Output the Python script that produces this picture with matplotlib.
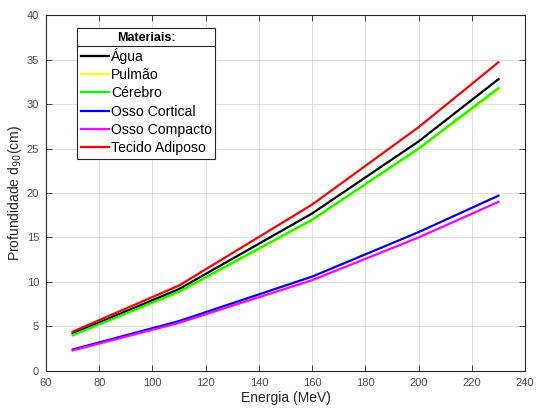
import matplotlib
matplotlib.use("Agg")
import matplotlib.pyplot as plt
from matplotlib.lines import Line2D

plt.rcParams['font.family'] = ['Liberation Sans', 'DejaVu Sans']

energia = [70, 110, 160, 200, 230]
agua = [4.2, 9.2, 17.7, 25.8, 32.8]
pulmao = [4.0, 8.8, 16.9, 24.9, 31.6]
cerebro = [4.0, 8.9, 17.0, 25.0, 31.8]
osso_cortical = [2.4, 5.6, 10.6, 15.6, 19.7]
osso_compacto = [2.3, 5.4, 10.2, 15.0, 19.0]
tecido_adiposo = [4.4, 9.6, 18.7, 27.4, 34.7]
series_names = ['Água', 'Pulmão', 'Cérebro', 'Osso Cortical', 'Osso Compacto', 'Tecido Adiposo']
xticks = list(range(60, 241, 20))
yticks = list(range(0, 41, 5))

colors = ['#000000', '#ffff00', '#00ff00', '#0000ff', '#ff00ff', '#ff0000']
data = [agua, pulmao, cerebro, osso_cortical, osso_compacto, tecido_adiposo]

fig = plt.figure(figsize=(5.51, 4.08), dpi=100)
ax = fig.add_axes([0.0835, 0.091, 0.8695, 0.872])
for vals, c, name in zip(data, colors, series_names):
    ax.plot(energia, vals, color=c, lw=1.6, label=name)

ax.set_xlim(60, 240)
ax.set_ylim(0, 40)
ax.set_xticks(xticks)
ax.set_yticks(yticks)
ax.grid(True, color='#dcdcdc', lw=0.6)
ax.set_axisbelow(True)
for s in ax.spines.values():
    s.set_color('#262626')
    s.set_linewidth(0.8)
ax.tick_params(direction='in', length=4, width=0.6, colors='#262626', labelsize=8, labelcolor='#4d4d4d',
               top=True, right=True, pad=5)
ax.set_xlabel('Energia (MeV)', fontsize=10, color='#262626', labelpad=2)
ax.set_ylabel('Profundidade d$_{90}$(cm)', fontsize=10, color='#262626', labelpad=2)

leg = ax.legend(loc='upper left', bbox_to_anchor=(0.065, 0.963), title='Materiais:',
                title_fontproperties={'weight': 'bold', 'size': 9},
                fontsize=10.1, handlelength=2.05, handletextpad=0.1, labelspacing=0.3,
                borderpad=0.25, fancybox=False, edgecolor='#262626', framealpha=1,
                borderaxespad=0)
leg.get_frame().set_linewidth(0.8)

fig.canvas.draw()
r = fig.canvas.get_renderer()
lb = leg.get_window_extent(r)
tb = leg.get_title().get_window_extent(r)
ysep = tb.y0 - 2
inv = fig.transFigure.inverted()
(x0, y0) = inv.transform((lb.x0, ysep))
(x1, _) = inv.transform((lb.x1, ysep))
fig.add_artist(Line2D([x0, x1], [y0, y0], color='#262626', lw=0.8, transform=fig.transFigure))

fig.savefig('out.png', dpi=100)
